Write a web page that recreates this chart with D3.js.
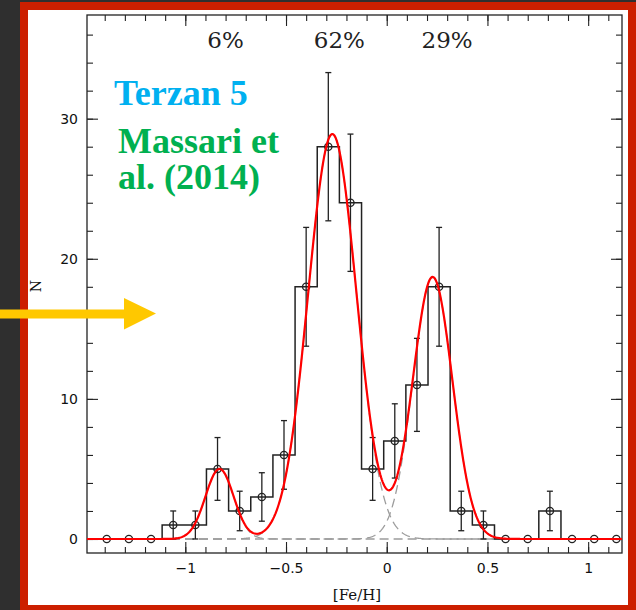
<!DOCTYPE html>
<html>
<head>
<meta charset="utf-8">
<script src="https://cdn.jsdelivr.net/npm/d3@7"></script>
<style>
  body { margin: 0; background: #2f2f2f; }
  svg { display: block; }
</style>
</head>
<body>
<div id="Graph"></div>
<script>
// histogram of [Fe/H] for Terzan 5 (bin centres, counts, poisson errors)
const binCenters = [-1.39, -1.28, -1.17, -1.06, -0.95, -0.84, -0.73, -0.62, -0.51, -0.40, -0.29, -0.18,
                    -0.07, 0.04, 0.15, 0.26, 0.37, 0.48, 0.59, 0.70, 0.81, 0.92, 1.03, 1.14];
const counts = [0, 0, 0, 1, 1, 5, 2, 3, 6, 18, 28, 24, 5, 7, 11, 18, 2, 1, 0, 0, 2, 0, 0, 0];
const errors = [0, 0, 0, 1, 1, 2.24, 1.41, 1.73, 2.45, 4.24, 5.29, 4.9, 2.24, 2.65, 3.32, 4.24,
                1.41, 1, 0, 0, 1.41, 0, 0, 0];

// three gaussian components of the fit
const fitMeans = [-0.83, -0.27, 0.228];
const fitSigmas = [0.07, 0.12, 0.098];
const fitAmps = [5.0, 28.9, 18.7];

const fractions = ["6%", "62%", "29%"];
const fractionX = [-0.80, -0.235, 0.30];

const xTicks = [-1, -0.5, 0, 0.5, 1];
const yTicks = [0, 10, 20, 30];

const width = 636, height = 610;
const margin = {top: 15, right: 14, bottom: 57, left: 87};

const svg = d3.select("#Graph").append("svg")
  .attr("width", width)
  .attr("height", height);

// slide frame
svg.append("rect").attr("x", 20).attr("y", 2).attr("width", 616).attr("height", 608).attr("fill", "#cc1f00");
svg.append("rect").attr("x", 28).attr("y", 10).attr("width", 600).attr("height", 595).attr("fill", "#fff");

const x = d3.scaleLinear().domain([-1.488, 1.168]).range([margin.left, width - margin.right]);
const y = d3.scaleLinear().domain([-1, 37.4]).range([height - margin.bottom, margin.top]);

const x0 = x.range()[0], x1 = x.range()[1];
const yb = y.range()[0], yt = y.range()[1];

// axes: ticks point inwards on all four sides
const minorX = d3.range(-14, 12).map(d => d / 10);
const minorY = d3.range(0, 38, 2);

function styleAxis(g) {
  g.select(".domain").remove();
  g.selectAll("line").attr("stroke", "#222").attr("stroke-width", 1.1);
  g.selectAll("text").attr("fill", "#111").attr("font-family", "DejaVu Sans").attr("font-size", 14);
}

svg.append("g").attr("transform", `translate(0,${yb})`)
  .call(d3.axisBottom(x).tickValues(minorX).tickSize(-6).tickSizeOuter(0).tickFormat(""))
  .call(styleAxis);
svg.append("g").attr("transform", `translate(0,${yb})`)
  .call(d3.axisBottom(x).tickValues(xTicks).tickSize(-11).tickSizeOuter(0).tickPadding(10)
    .tickFormat(d3.format("~g")))
  .call(styleAxis);
svg.append("g").attr("transform", `translate(0,${yt})`)
  .call(d3.axisTop(x).tickValues(minorX).tickSize(-6).tickSizeOuter(0).tickFormat(""))
  .call(styleAxis);
svg.append("g").attr("transform", `translate(0,${yt})`)
  .call(d3.axisTop(x).tickValues(xTicks).tickSize(-11).tickSizeOuter(0).tickFormat(""))
  .call(styleAxis);

svg.append("g").attr("transform", `translate(${x0},0)`)
  .call(d3.axisLeft(y).tickValues(minorY).tickSize(-6).tickSizeOuter(0).tickFormat(""))
  .call(styleAxis);
svg.append("g").attr("transform", `translate(${x0},0)`)
  .call(d3.axisLeft(y).tickValues(yTicks).tickSize(-11).tickSizeOuter(0).tickPadding(9))
  .call(styleAxis);
svg.append("g").attr("transform", `translate(${x1},0)`)
  .call(d3.axisRight(y).tickValues(minorY).tickSize(-6).tickSizeOuter(0).tickFormat(""))
  .call(styleAxis);
svg.append("g").attr("transform", `translate(${x1},0)`)
  .call(d3.axisRight(y).tickValues(yTicks).tickSize(-11).tickSizeOuter(0).tickFormat(""))
  .call(styleAxis);

svg.append("rect")
  .attr("x", x0).attr("y", yt).attr("width", x1 - x0).attr("height", yb - yt)
  .attr("fill", "none").attr("stroke", "#222").attr("stroke-width", 1.3);

const plot = svg.append("g");

// dashed individual gaussians
const xs = d3.range(x.domain()[0], x.domain()[1] + 0.002, 0.004);
const gauss = (v, i) => fitAmps[i] * Math.exp(-Math.pow(v - fitMeans[i], 2) / (2 * fitSigmas[i] * fitSigmas[i]));
const line = d3.line().x(d => x(d[0])).y(d => y(d[1]));

fitMeans.forEach((m, i) => {
  plot.append("path")
    .datum(xs.map(v => [v, gauss(v, i)]))
    .attr("d", line)
    .attr("fill", "none")
    .attr("stroke", "#9c9c9c")
    .attr("stroke-width", 1.3)
    .attr("stroke-dasharray", "9,5");
});

// histogram steps
const histPts = [[x.domain()[0], 0]].concat(binCenters.map((c, i) => [c, counts[i]]), [[x.domain()[1], 0]]);
plot.append("path")
  .datum(histPts)
  .attr("d", d3.line().curve(d3.curveStep).x(d => x(d[0])).y(d => y(d[1])))
  .attr("fill", "none")
  .attr("stroke", "#222")
  .attr("stroke-width", 1.5);

// error bars
const eb = plot.append("g").attr("stroke", "#222").attr("stroke-width", 1.3);
binCenters.forEach((c, i) => {
  if (errors[i] <= 0) return;
  const cx = x(c);
  eb.append("line").attr("x1", cx).attr("x2", cx).attr("y1", y(counts[i] - errors[i])).attr("y2", y(counts[i] + errors[i]));
  eb.append("line").attr("x1", cx - 3).attr("x2", cx + 3).attr("y1", y(counts[i] - errors[i])).attr("y2", y(counts[i] - errors[i]));
  eb.append("line").attr("x1", cx - 3).attr("x2", cx + 3).attr("y1", y(counts[i] + errors[i])).attr("y2", y(counts[i] + errors[i]));
});

plot.append("g").selectAll("circle")
  .data(binCenters)
  .enter().append("circle")
  .attr("cx", d => x(d))
  .attr("cy", (d, i) => y(counts[i]))
  .attr("r", 3.6)
  .attr("fill", "none")
  .attr("stroke", "#222")
  .attr("stroke-width", 1.3);

// total fit in red
plot.append("path")
  .datum(xs.map(v => [v, gauss(v, 0) + gauss(v, 1) + gauss(v, 2)]))
  .attr("d", line)
  .attr("fill", "none")
  .attr("stroke", "#ff0000")
  .attr("stroke-width", 2.2);

// fractions along the top
svg.append("g").selectAll("text")
  .data(fractions)
  .enter().append("text")
  .attr("x", (d, i) => x(fractionX[i]))
  .attr("y", y(35.05))
  .attr("text-anchor", "middle")
  .attr("font-family", "DejaVu Serif")
  .attr("font-size", 23)
  .attr("fill", "#222")
  .text(d => d);

// axis labels
svg.append("text")
  .attr("x", 357).attr("y", 600)
  .attr("text-anchor", "middle")
  .attr("font-family", "DejaVu Serif")
  .attr("font-size", 15)
  .attr("fill", "#111")
  .text("[Fe/H]");

svg.append("text")
  .attr("transform", "translate(41,286) rotate(-90)")
  .attr("text-anchor", "middle")
  .attr("font-family", "DejaVu Serif")
  .attr("font-size", 14)
  .attr("fill", "#111")
  .text("N");

// annotation
svg.append("text")
  .attr("x", 114).attr("y", 105)
  .attr("font-family", "Liberation Serif")
  .attr("font-weight", "bold")
  .attr("font-size", 36)
  .attr("fill", "#00b0f0")
  .text("Terzan 5");

const cite = svg.append("text")
  .attr("font-family", "Liberation Serif")
  .attr("font-weight", "bold")
  .attr("font-size", 36)
  .attr("fill", "#00b050");
cite.append("tspan").attr("x", 118).attr("y", 153).text("Massari et");
cite.append("tspan").attr("x", 118).attr("y", 189).text("al. (2014)");

// yellow arrow
svg.append("rect").attr("x", 0).attr("y", 309.5).attr("width", 126).attr("height", 9).attr("fill", "#ffc800");
svg.append("path")
  .attr("d", "M124,298 L156,313.5 L124,329.5 Z")
  .attr("fill", "#ffc800");
</script>
</body>
</html>
